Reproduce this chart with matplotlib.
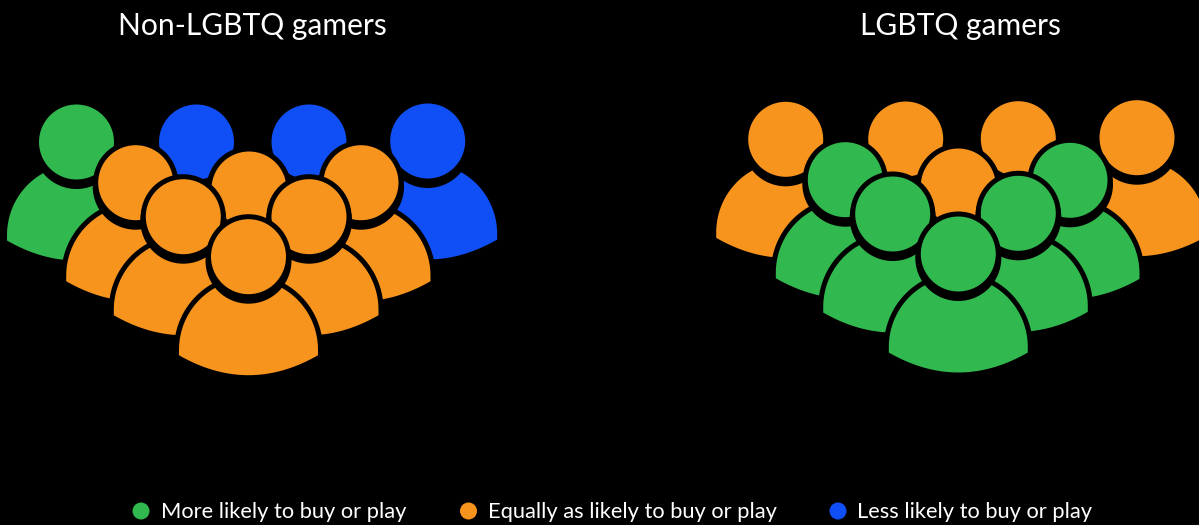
#!/usr/bin/python3
'''
Abstract:
    Pictogram of how gamers respond to LGBTQ content, one icon per tenth of the group.
Output:
    out.png
'''
import numpy as np
from matplotlib import pyplot as plt
from matplotlib.path import Path
from matplotlib.patches import PathPatch, Circle

GREEN = '#31b84f'
ORANGE = '#f7941e'
BLUE = '#0f4ff5'

panel_titles = ['Non-LGBTQ gamers', 'LGBTQ gamers']
legend_labels = ['More likely to buy or play',
                 'Equally as likely to buy or play',
                 'Less likely to buy or play']
# answer of each icon, back row first, in drawing order
non_lgbtq_icons = ['more', 'less', 'less', 'less',
                   'equal', 'equal', 'equal', 'equal', 'equal', 'equal']
lgbtq_icons = ['equal', 'equal', 'equal', 'equal',
               'equal', 'more', 'more', 'more', 'more', 'more']
colors = {'more': GREEN, 'equal': ORANGE, 'less': BLUE}

# head centres in pixels, same order as the icon lists
left_heads = [(76.5, 142), (196.5, 142), (309, 142), (427.7, 141),
              (249, 189), (135.7, 182.7), (361, 182.7),
              (183.3, 216.7), (309, 216.7), (248.5, 256.7)]
right_heads = [(785.7, 139.3), (905.7, 139), (1018.3, 138.7), (1137, 137.7),
               (958.3, 186), (845.3, 179.7), (1070, 180.3),
               (892.7, 214), (1018.3, 213.3), (958.3, 254)]


def body_path(cx, cy):
    # dome from shoulder to shoulder, closed by a shallow arc at the bottom
    theta = np.linspace(np.pi, 2 * np.pi, 60)
    dome_x = cx + 72 * np.cos(theta)
    dome_y = cy + 93 + 73 * np.sin(theta)
    t = np.linspace(1, -1, 40)
    base_x = cx + 72 * t
    base_y = cy + 100 + 21 * (1 - t ** 2)
    verts = list(zip(dome_x, dome_y)) + list(zip(base_x, base_y))
    verts.append(verts[0])
    codes = [Path.MOVETO] + [Path.LINETO] * (len(verts) - 2) + [Path.CLOSEPOLY]
    return Path(verts, codes)


def draw_person(ax, cx, cy, color, z):
    ax.add_patch(PathPatch(body_path(cx, cy), facecolor = color, edgecolor = 'black',
                           linewidth = 3.6, joinstyle = 'round', zorder = z))
    # the gap under the chin is wider than the ring round the head
    ax.add_patch(Circle((cx, cy + 4), 43, facecolor = 'black', edgecolor = 'none',
                        zorder = z + 0.25))
    ax.add_patch(Circle((cx, cy), 40, facecolor = color, edgecolor = 'black',
                        linewidth = 3.6, zorder = z + 0.5))


#--------------------------------------------
# Main code
if __name__ == "__main__":
    plt.rcParams['font.family'] = ['Lato', 'DejaVu Sans']
    fig = plt.figure(figsize = (11.99, 5.25), dpi = 100, facecolor = 'black')
    ax = fig.add_axes([0, 0, 1, 1])
    ax.set_xlim(0, 1199)
    ax.set_ylim(525, 0)
    ax.axis('off')

    for heads, icons in ((left_heads, non_lgbtq_icons), (right_heads, lgbtq_icons)):
        for i, ((cx, cy), answer) in enumerate(zip(heads, icons)):
            draw_person(ax, cx, cy, colors[answer], i + 1)

    ax.text(252, 26, panel_titles[0], color = 'white', fontsize = 21.6,
            ha = 'center', va = 'center', zorder = 30)
    ax.text(960, 26, panel_titles[1], color = 'white', fontsize = 21.6,
            ha = 'center', va = 'center', zorder = 30)

    # legend
    dot_x = [141, 468.5, 838]
    text_x = [161, 488, 857]
    for x, tx, label, key in zip(dot_x, text_x, legend_labels, ('more', 'equal', 'less')):
        ax.add_patch(Circle((x, 511), 8.5, facecolor = colors[key], edgecolor = 'none', zorder = 30))
        ax.text(tx, 512, label, color = 'white', fontsize = 15.75,
                ha = 'left', va = 'center', zorder = 30)

    plt.savefig('out.png', dpi = 100, facecolor = 'black')
